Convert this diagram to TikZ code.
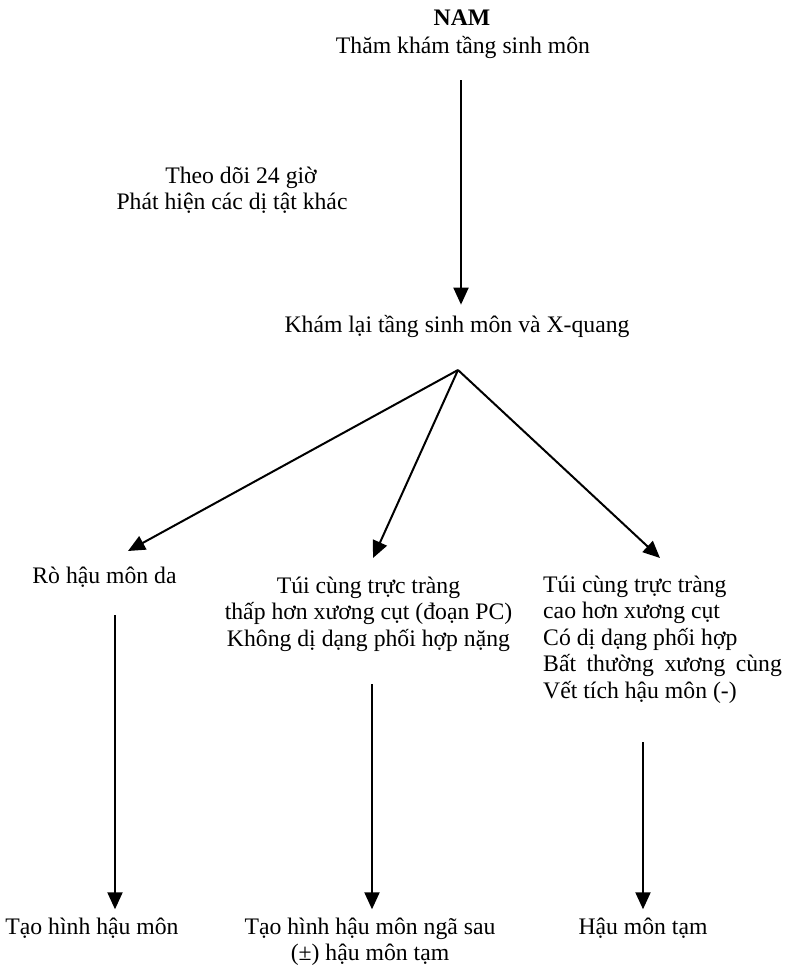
\documentclass[tikz,border=0pt]{standalone}
\usepackage{fontspec}
\setmainfont{Liberation Serif}
\usetikzlibrary{arrows.meta}
\tikzset{
  txt/.style={inner sep=0pt, font=\fontsize{23.7}{26.5}\selectfont},
  arr/.style={line width=2pt, -{Triangle[length=17pt,width=15pt]}}
}
\begin{document}
\begin{tikzpicture}[x=1pt,y=-1pt]
\useasboundingbox (0,0) rectangle (787,966);
% top
\node[txt, anchor=base, font=\fontsize{23.7}{26.5}\selectfont\bfseries] (nam) at (462,26) {NAM};
\node[txt, anchor=base] (tham) at (463,53) {Thăm khám tầng sinh môn};
\node[txt, anchor=base, align=center] (theo) at (232,209.5) {\hspace*{18pt}Theo dõi 24 giờ\\Phát hiện các dị tật khác};
\node[txt, anchor=base] (kham) at (457,332) {Khám lại tầng sinh môn và X-quang};
\coordinate (s0) at (461,80);
\draw[arr] (s0) -- (s0 |- kham.north) [shorten >=10pt];
% branch
\coordinate (apex) at (458,370);
\node[txt, anchor=base] (ro) at (104.5,583) {Rò hậu môn da};
\node[txt, anchor=base, align=center] (mid) at (368.5,646) {Túi cùng trực tràng\\thấp hơn xương cụt (đoạn PC)\\Không dị dạng phối hợp nặng};
\node[txt, anchor=base west, align=left] (rgt) at (543,698) {Túi cùng trực tràng\\cao hơn xương cụt\\Có dị dạng phối hợp\\Bất\hspace{0.44em}thường\hspace{0.44em}xương\hspace{0.44em}cùng\\Vết tích hậu môn (-)};
\coordinate (t1) at (128,551);
\coordinate (t2) at (373,558);
\coordinate (t3) at (660,558);
\draw[arr] (apex) -- (t1);
\draw[arr] (apex) -- (t2);
\draw[arr] (apex) -- (t3);
% bottom
\node[txt, anchor=base] (b1) at (92,934) {Tạo hình hậu môn};
\node[txt, anchor=base, align=center] (b2) at (370,960.5) {Tạo hình hậu môn ngã sau\\(±) hậu môn tạm};
\node[txt, anchor=base] (b3) at (643,934) {Hậu môn tạm};
\coordinate (v1) at (115,615);
\coordinate (v2) at (372,684);
\coordinate (v3) at (643,742);
\draw[arr] (v1) -- (v1 |- b1.north) [shorten >=8pt];
\draw[arr] (v2) -- (v2 |- b2.north) [shorten >=8pt];
\draw[arr] (v3) -- (v3 |- b3.north) [shorten >=8pt];
\end{tikzpicture}
\end{document}
